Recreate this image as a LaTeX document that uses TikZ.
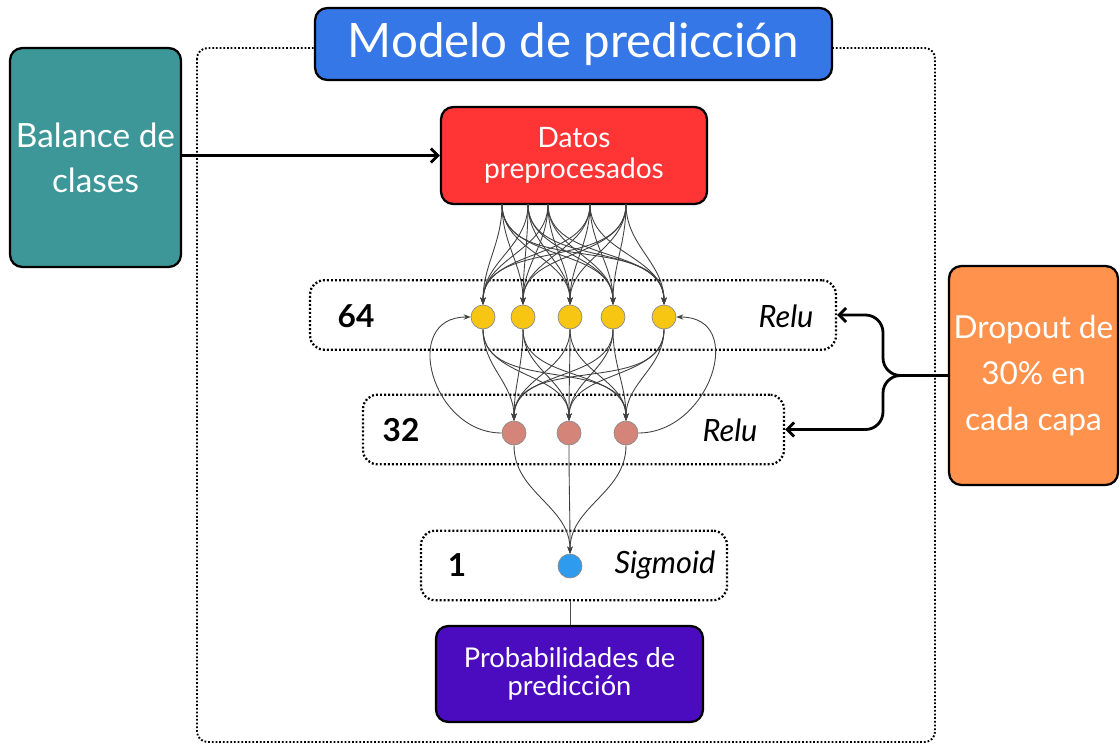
\documentclass[tikz,border=0pt]{standalone}
\usepackage{fontspec}
\setmainfont{Lato}
\usepackage{tikz}
\definecolor{titleblue}{HTML}{3677E8}
\definecolor{balteal}{HTML}{3D9698}
\definecolor{datred}{HTML}{FF3535}
\definecolor{probpurple}{HTML}{4B0CC0}
\definecolor{droporange}{HTML}{FF924C}
\definecolor{reluyellow}{HTML}{F6C613}
\definecolor{relupink}{HTML}{D5847A}
\definecolor{sigblue}{HTML}{2E9BEF}
\usetikzlibrary{arrows.meta}

\begin{document}
\begin{tikzpicture}[x=0.02cm, y=0.02cm,
	box/.style={draw, line width=1.3pt, rounded corners=7pt, text=white, align=center, inner sep=0pt},
	layer/.style={draw, line width=1.3pt, dash pattern=on 1.1pt off 1.2pt, rounded corners=8pt, minimum height=1.39cm},
	neuron/.style={circle, draw=black!45, minimum size=0.48cm, inner sep=0pt},
	wire/.style={-{Stealth[length=4pt, width=3pt]}, black!75, line width=0.5pt},
	bigarrow/.style={-{Straight Barb[length=4pt, width=8pt]}, line width=1.6pt},
	units/.style={font=\bfseries\fontsize{18}{20}\selectfont},
	act/.style={font=\itshape\fontsize{17.5}{20}\selectfont}]
	\useasboundingbox (0,0) rectangle (1120,-744);
	
	\draw[line width=1.1pt, dash pattern=on 1pt off 1.1pt, rounded corners=6pt] (197,-48) rectangle (935,-742);
	
	\node[box, fill=titleblue, minimum width=10.34cm, minimum height=1.44cm, font=\fontsize{27}{30}\selectfont] (tit) at (573.5,-44) {Modelo de predicción};
	\node[box, fill=balteal, minimum width=3.42cm, minimum height=4.38cm, font=\fontsize{19}{25.5}\selectfont] (bal) at (95.5,-157.5) {Balance de\\clases};
	\node[box, fill=datred, minimum width=5.32cm, minimum height=1.94cm, font=\fontsize{16}{18}\selectfont] (dat) at (574,-155.5) {Datos\\preprocesados};
	\node[box, fill=probpurple, minimum width=5.34cm, minimum height=1.92cm, font=\fontsize{15.5}{16}\selectfont] (prob) at (569.5,-674) {Probabilidades de\\predicción};
	\node[box, fill=droporange, minimum width=3.38cm, minimum height=4.38cm, font=\fontsize{18}{26}\selectfont] (drop) at (1033.5,-375.5) {Dropout de\\30\% en\\cada capa};
	
	\node[layer, minimum width=10.52cm] (l64) at (573,-315) {};
	\node[layer, minimum width=8.42cm] (l32) at (573.5,-429.5) {};
	\node[layer, minimum width=6.12cm] (l1) at (574,-565.5) {};
	\node[units] (u64) at (356,-316) {64};
	\node[units] (u32) at (401,-430) {32};
	\node[units] (u1) at (457,-565) {1};
	\node[act] (a64) at (786,-316) {Relu};
	\node[act] (a32) at (730,-430) {Relu};
	\node[act] (a1) at (665,-565) {Sigmoid};
	
	\foreach \i/\x in {1/483,2/523,3/570,4/613,5/664}
		\node[neuron, fill=reluyellow] (y\i) at (\x,-317) {};
	\foreach \j/\x in {1/514,2/569,3/626}
		\node[neuron, fill=relupink] (r\j) at (\x,-433) {};
	\node[neuron, fill=sigblue] (b1) at (570,-566) {};
	\foreach \k/\x in {1/502,2/528,3/548,4/590,5/626}
		\coordinate (s\k) at (\x,-204);
	
	\foreach \k in {1,...,5}
		\foreach \i in {1,...,5}
			\draw[wire] (s\k) to[out=-90, in=90] (y\i);
	\foreach \i in {1,...,5}
		\foreach \j in {1,2,3}
			\draw[wire] (y\i) to[out=-90, in=90] (r\j);
	\foreach \j in {1,2,3}
		\draw[wire] (r\j) to[out=-90, in=90] (b1);
	\draw[wire] (r1.west) to[out=180, in=180, looseness=1.5] (y1.west);
	\draw[wire] (r3.east) to[out=0, in=0, looseness=1.5] (y5.east);
	\draw[black!70, line width=0.5pt] (l1.south -| b1) -- (prob.north -| b1);
	
	\draw[bigarrow] (bal.east |- dat.west) -- (dat.west);
	\coordinate (jn) at (883,-375.5);
	\draw[bigarrow, rounded corners=10pt] (drop.west) -- (jn) |- (l64.east);
	\draw[bigarrow, rounded corners=10pt] (drop.west) -- (jn) |- (l32.east);
\end{tikzpicture}
\end{document}
